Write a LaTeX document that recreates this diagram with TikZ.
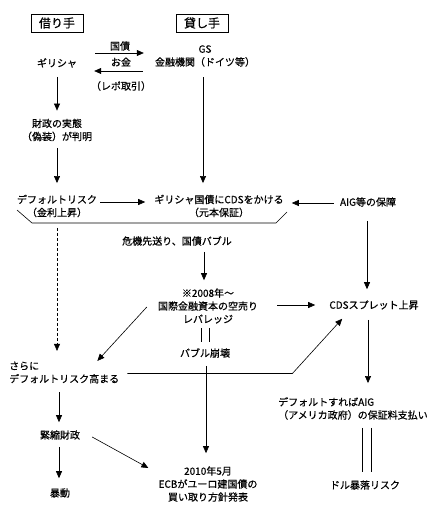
\documentclass[tikz,border=0pt]{standalone}
\usepackage{fontspec}
\setmainfont{Noto Sans CJK JP}[FakeBold=0.6]
\usetikzlibrary{arrows.meta,calc}
\begin{document}
\begin{tikzpicture}[x=1pt,y=-1pt,
 txt/.style={align=center,font=\fontsize{10}{13}\selectfont,inner sep=2pt},
 hdr/.style={draw,line width=0.7pt,font=\fontsize{12}{14}\selectfont,minimum width=52pt,minimum height=18pt,inner sep=0pt},
 arr/.style={draw,line width=0.6pt,-{Triangle[length=7pt,width=6pt]}},
 ln/.style={draw,line width=0.6pt}]
\useasboundingbox (0,0) rectangle (444,518);
% nodes
\node[hdr] (borrower) at (57,23) {借り手};
\node[hdr] (lender) at (202,23) {貸し手};
\node[txt] (greece) at (57,63) {ギリシャ};
\node[txt] (gs) at (205,56) {GS\\金融機関（ドイツ等）};
\node[txt] (bond) at (120,46) {国債};
\node[txt] (money) at (121,62) {お金};
\node[txt] (repo) at (121,86) {（レポ取引）};
\node[txt] (zaisei) at (57,130) {財政の実態\\（偽装）が判明};
\node[txt] (default) at (57,206) {デフォルトリスク\\（金利上昇）};
\node[txt] (cds) at (219,206) {ギリシャ国債にCDSをかける\\（元本保証）};
\node[txt] (aig) at (368,202) {AIG等の保障};
\node[txt] (kiki) at (177,241) {危機先送り、国債バブル};
\node[txt] (note) at (208,306) {※2008年～\\国際金融資本の空売り\\レバレッジ};
\node[txt] (bubble) at (205,353) {バブル崩壊};
\node[txt] (spread) at (374,305) {CDSスプレット上昇};
\node[txt,align=left,anchor=west] (sarani) at (7,372.5) {さらに\\デフォルトリスク高まる};
\node[txt] (kinshuku) at (60,435) {緊縮財政};
\node[txt] (boudou) at (60,493) {暴動};
\node[txt] (ecb) at (208,484) {2010年5月\\ECBがユーロ建国債の\\買い取り方針発表};
\node[txt,align=left,anchor=west] (aigpay) at (276,408.5) {デフォルトすればAIG\\（アメリカ政府）の保証料支払い};
\node[txt] (dollar) at (365,485) {ドル暴落リスク};
% connectors
\draw[arr] ($(greece.east)+(16,-10)$) -- ($(greece.east -| gs.west)+(-9,-10)$);
\draw[arr] ($(greece.east -| gs.west)+(-10,8)$) -- ($(greece.east)+(15,8)$);
\draw[arr] ($(greece.south)+(0,7)$) -- ($(zaisei.north)+(0,-6)$);
\draw[arr] ($(zaisei.south)+(0,4.5)$) -- ($(default.north)+(0,-9.5)$);
\draw[arr] ($(gs.south)+(-2,8.5)$) -- ($(gs.south |- cds.north)+(-2,-9.5)$);
\draw[arr] ($(default.east)+(1,-4)$) -- ($(default.east -| cds.west)+(-7,-4)$);
\draw[arr] ($(aig.west)+(-4,1)$) -- ($(aig.west -| cds.east)+(6,1)$);
\draw[ln] (17,210) -- (32,223) -- (276,223) -- (287,212);
\draw[arr,dash pattern=on 3pt off 2pt] ($(default.south)+(0,8.5)$) -- ($(default.south |- sarani.north)+(0,-8.5)$);
\draw[arr] ($(aig.south)+(-1,12)$) -- ($(aig.south |- spread.north)+(-1,-9)$);
\draw[arr] ($(kiki.south -| note.north)+(-4,4)$) -- ($(note.north)+(-4,-6)$);
\draw[arr] ($(note.east)+(17,-1)$) -- ($(note.east -| spread.west)+(-12,-1)$);
\draw[arr] ($(note.west)+(-9,1)$) -- ($(sarani.north east)+(-24,1.5)$);
\draw[ln] ($(note.south)+(-7,2)$) -- ($(bubble.north)+(-4,-4)$);
\draw[ln] ($(note.south)+(1,2)$) -- ($(bubble.north)+(4,-4)$);
\draw[arr] ($(sarani.east)+(6,1)$) -- ++(165,0) -- ($(spread.south west)+(15,7)$);
\draw[arr] ($(bubble.south)+(1,6)$) -- ($(bubble.south |- ecb.north)+(1,-11)$);
\draw[arr] ($(spread.south)+(-6,8)$) -- ($(spread.south |- aigpay.north)+(-6,-12)$);
\draw[ln] ($(aigpay.south -| dollar.north)+(-3,6)$) -- ($(dollar.north)+(-3,-6)$);
\draw[ln] ($(aigpay.south -| dollar.north)+(6,6)$) -- ($(dollar.north)+(6,-6)$);
\draw[arr] ($(sarani.south west)+(52,6.5)$) -- ($(kinshuku.north)+(-1,-6)$);
\draw[arr] ($(kinshuku.south)+(-1,5)$) -- ($(boudou.north)+(-1,-8)$);
\draw[arr] ($(kinshuku.east)+(10,2)$) -- ($(ecb.west)+(-8,-16)$);
\end{tikzpicture}
\end{document}
